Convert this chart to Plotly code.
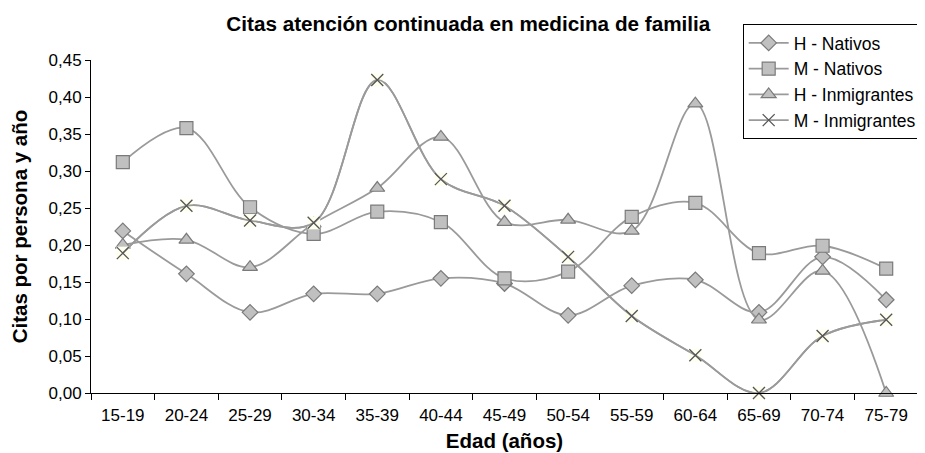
import plotly.graph_objects as go

categorias = ["15-19", "20-24", "25-29", "30-34", "35-39", "40-44", "45-49",
              "50-54", "55-59", "60-64", "65-69", "70-74", "75-79"]
h_nativos = [0.219, 0.161, 0.109, 0.134, 0.134, 0.155, 0.148, 0.105, 0.145, 0.153, 0.109, 0.184, 0.126]
m_nativos = [0.312, 0.358, 0.251, 0.215, 0.245, 0.231, 0.155, 0.164, 0.238, 0.257, 0.189, 0.199, 0.168]
h_inmigrantes = [0.200, 0.207, 0.170, 0.229, 0.277, 0.346, 0.231, 0.234, 0.219, 0.391, 0.099, 0.165, 0.000]
m_inmigrantes = [0.189, 0.253, 0.233, 0.230, 0.423, 0.289, 0.253, 0.184, 0.104, 0.051, 0.000, 0.077, 0.099]

LINE = "#9a9a9a"
FILL = "#c0c0c0"
EDGE = "#7a7a7a"

fig = go.Figure()

def add(name, vals, symbol, size):
    fig.add_trace(go.Scatter(
        x=categorias, y=vals, name=name, mode="lines+markers",
        line=dict(color=LINE, width=1.8, shape="spline", smoothing=1.0),
        marker=dict(symbol=symbol, size=size, color=FILL, line=dict(color=EDGE, width=1.2)),
        cliponaxis=False,
    ))

add("H - Nativos", h_nativos, "diamond", 12)
add("M - Nativos", m_nativos, "square", 13)
add("H - Inmigrantes", h_inmigrantes, "triangle-up", 13)

# background of X markers
fig.add_trace(go.Scatter(
    x=categorias, y=m_inmigrantes, mode="lines",
    line=dict(color=LINE, width=1.8, shape="spline", smoothing=1.0),
    showlegend=False, hoverinfo="skip", cliponaxis=False,
))
fig.add_trace(go.Scatter(
    x=categorias, y=m_inmigrantes, mode="markers",
    marker=dict(symbol="square", size=13, color="#fffff0", line=dict(width=0)),
    showlegend=False, hoverinfo="skip", cliponaxis=False,
))
fig.add_trace(go.Scatter(
    x=categorias, y=m_inmigrantes, name="M - Inmigrantes", mode="lines+markers",
    line=dict(color=LINE, width=1.8, shape="spline", smoothing=1.0),
    marker=dict(symbol="x-thin-open", size=12, color="#555555", line=dict(color="#555555", width=1.3)),
    cliponaxis=False,
))

fig.update_layout(
    width=917, height=445,
    margin=dict(l=83, r=7, t=52, b=60, autoexpand=False),
    paper_bgcolor="white", plot_bgcolor="white",
    separators=",.",
    font=dict(family="Liberation Sans, Arial, sans-serif", size=17, color="black"),
    title=dict(text="<b>Citas atención continuada en medicina de familia</b>",
               x=0.502, xanchor="center", y=0.965, yanchor="middle",
               font=dict(size=20.7, color="black")),
    legend=dict(x=0.788, y=1.108, xanchor="left", yanchor="top",
                bordercolor="black", borderwidth=1, bgcolor="white",
                font=dict(size=17.5), tracegroupgap=0, itemwidth=40),
    showlegend=True,
)
fig.update_xaxes(
    type="category", range=[-0.5, 12.5], tickson="boundaries",
    ticks="outside", ticklen=6, tickcolor="black", showline=True, linecolor="black",
    linewidth=1, showgrid=False, zeroline=False, tickfont=dict(size=17),
    ticklabelstandoff=7, automargin=False,
    title=dict(text="<b>Edad (años)</b>", font=dict(size=20.5), standoff=9),
)
fig.update_yaxes(
    range=[0, 0.45], dtick=0.05, tickformat=".2f",
    ticks="outside", ticklen=5, tickcolor="black", showline=True, linecolor="black",
    linewidth=1, showgrid=False, zeroline=False, tickfont=dict(size=17),
    automargin=False,
    title=dict(text="<b>Citas por persona y año</b>", font=dict(size=20.5), standoff=16),
)

fig.write_html("out.html")
